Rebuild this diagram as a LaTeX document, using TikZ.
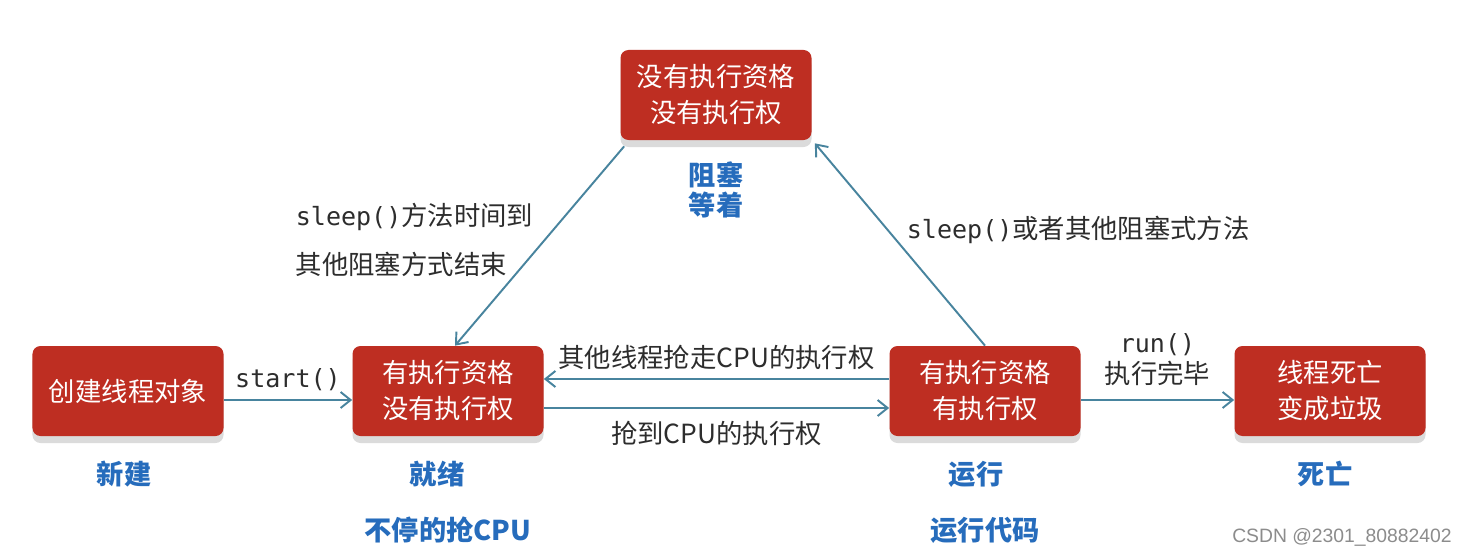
\documentclass[tikz,border=0pt]{standalone}
\usepackage{fontspec}
\setmainfont{Noto Sans CJK SC}
\setmonofont[Scale=0.95]{DejaVu Sans Mono}
\newfontfamily\wmfont{Liberation Sans}
\usetikzlibrary{arrows.meta,shadows}

\definecolor{boxred}{RGB}{190,46,34}
\definecolor{flowblue}{RGB}{72,132,158}
\definecolor{tagblue}{RGB}{38,108,188}
\definecolor{txtgray}{RGB}{45,45,45}

\begin{document}
\begin{tikzpicture}[
    x=0.2mm, y=-0.2mm,
    font=\fontsize{15}{20.5}\selectfont,
    %% Stav vlákna
    state/.style={
        rectangle, rounded corners=1.6mm, fill=boxred, text=white,
        minimum width=38.2mm, minimum height=18mm, align=center, inner sep=0pt,
        drop shadow={shadow xshift=0mm, shadow yshift=-1.4mm, fill=black!14, opacity=1}
    },
    %% Prechod medzi stavmi
    flow/.style={draw=flowblue, line width=1.1pt,
        -{Straight Barb[length=2mm,width=3.2mm]}},
    %% Popis prechodu
    edgelbl/.style={text=txtgray, inner sep=2pt},
    %% Modrý názov stavu
    tag/.style={text=tagblue, font=\fontsize{15.5}{17}\selectfont\bfseries}
]
\useasboundingbox (0,0) rectangle (1464,555);
\fill[white] (0,0) rectangle (1464,555);

%% ══════════════════════════════════════════════════════════════════
%% Stavy
%% ══════════════════════════════════════════════════════════════════
\node[state] (new)  at (128,391)  {创建线程对象};
\node[state] (rdy)  at (448,391)  {有执行资格\\没有执行权};
\node[state] (run)  at (985,391)  {有执行资格\\有执行权};
\node[state] (dead) at (1330,391) {线程死亡\\变成垃圾};
\node[state] (blk)  at (716,95)   {没有执行资格\\没有执行权};

%% ══════════════════════════════════════════════════════════════════
%% Prechody
%% ══════════════════════════════════════════════════════════════════
\draw[flow] ([yshift=-1.8mm]new.east) -- ([yshift=-1.8mm]rdy.west)
    node[midway, above=2.5pt, edgelbl] {\texttt{start()}};
\draw[flow] ([yshift=2.4mm]run.west) -- ([yshift=2.4mm]rdy.east)
    node[midway, above=2.5pt, edgelbl] {其他线程抢走CPU的执行权};
\draw[flow] ([yshift=-3.4mm]rdy.east) -- ([yshift=-3.4mm]run.west)
    node[midway, below=5pt, edgelbl] {抢到CPU的执行权};
\draw[flow] ([yshift=-1.8mm]run.east) -- ([yshift=-1.8mm]dead.west)
    node[midway, above=5.5pt, edgelbl, align=center,
         font=\fontsize{15}{17.5}\selectfont] {\texttt{run()}\\执行完毕};

%% Blokovanie a návrat
\draw[flow] ([xshift=0.8mm,yshift=-1.2mm]blk.south west) -- ([xshift=1.4mm]rdy.north);
\draw[flow] (run.north) -- ([xshift=0.6mm,yshift=-0.6mm]blk.south east);

\node[edgelbl, anchor=west, align=left, font=\fontsize{15}{27.9}\selectfont]
    (wake) at (292,240) {\texttt{sleep()}方法时间到\\其他阻塞方式结束};
\node[edgelbl, anchor=west] (block) at (903,230)
    {\texttt{sleep()}或者其他阻塞式方法};

%% ══════════════════════════════════════════════════════════════════
%% Názvy stavov
%% ══════════════════════════════════════════════════════════════════
\node[tag] (tnew)  at (124,474)  {新建};
\node[tag] (trdy)  at (437,474)  {就绪};
\node[tag] (tgrab) at (448,530)  {不停的抢CPU};
\node[tag] (trun)  at (976,474)  {运行};
\node[tag] (tcode) at (985,530)  {运行代码};
\node[tag] (tdead) at (1325,474) {死亡};
\node[tag, align=center] (tblk) at (716,190) {阻塞\\等着};

\node[text=black!45, font=\wmfont\fontsize{11}{13}\selectfont] (wm) at (1342,537)
    {CSDN @2301\_80882402};

\end{tikzpicture}
\end{document}
